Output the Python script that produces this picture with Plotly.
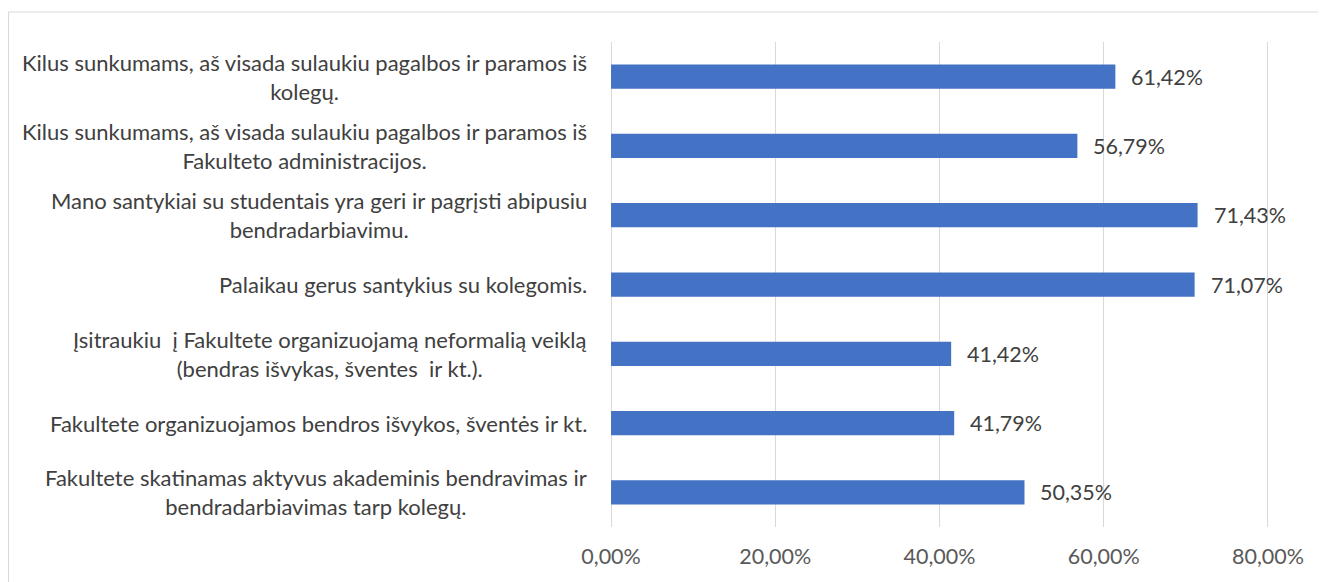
import plotly.graph_objects as go

categories = [
    "Kilus sunkumams, aš visada sulaukiu pagalbos ir paramos iš<br>kolegų.",
    "Kilus sunkumams, aš visada sulaukiu pagalbos ir paramos iš<br>Fakulteto administracijos.",
    "Mano santykiai su studentais yra geri ir pagrįsti abipusiu<br>bendradarbiavimu.",
    "Palaikau gerus santykius su kolegomis.",
    "Įsitraukiu  į Fakultete organizuojamą neformalią veiklą<br>(bendras išvykas, šventes  ir kt.).",
    "Fakultete organizuojamos bendros išvykos, šventės ir kt.",
    "Fakultete skatinamas aktyvus akademinis bendravimas ir<br>bendradarbiavimas tarp kolegų.",
]
values = [61.42, 56.79, 71.43, 71.07, 41.42, 41.79, 50.35]
tick_vals = [0, 20, 40, 60, 80]
tick_text = ["0,00%", "20,00%", "40,00%", "60,00%", "80,00%"]

FONT = "Lato"
TXT = "#404040"

L, R, T, B = 601, 64, 34, 63
PW = 1326 - L - R
PH = 582 - T - B

fig = go.Figure()
fig.add_trace(go.Bar(
    x=values, y=list(range(len(categories))), orientation="h",
    marker=dict(color="#4472C4", line=dict(width=0)),
    width=0.35, hoverinfo="skip",
))

annotations = []
for i, (c, v) in enumerate(zip(categories, values)):
    annotations.append(dict(
        x=0, xref="paper", y=i, yref="y", text=c, showarrow=False,
        xanchor="right", yanchor="middle", align="center", xshift=-20,
        font=dict(family=FONT, size=22, color=TXT),
    ))
    annotations.append(dict(
        x=v, xref="x", y=i, yref="y", text=f"{v:.2f}%".replace(".", ","),
        showarrow=False, xanchor="left", yanchor="middle", xshift=14,
        font=dict(family=FONT, size=21.5, color=TXT),
    ))

fig.update_layout(
    width=1326, height=582,
    margin=dict(l=L, r=R, t=T, b=B),
    paper_bgcolor="white", plot_bgcolor="white",
    showlegend=False,
    annotations=annotations,
    xaxis=dict(range=[-0.25, 80.25], tickvals=tick_vals, ticktext=tick_text,
               showgrid=True, gridcolor="#d9d9d9", gridwidth=1,
               zeroline=False, showline=False, ticks="",
               tickfont=dict(family=FONT, size=21.5, color="#595959"),
               ticklabelstandoff=14),
    yaxis=dict(range=[6.5, -0.5], showticklabels=False, showgrid=False,
               zeroline=False, showline=False, ticks=""),
    shapes=[dict(type="rect", xref="paper", yref="paper",
                 x0=(0.5 - L) / PW, x1=1.2, y0=-0.3, y1=(PH + T - 4) / PH,
                 line=dict(color="#d9d9d9", width=1), fillcolor="rgba(0,0,0,0)",
                 layer="below")],
)

fig.write_html("out.html")
